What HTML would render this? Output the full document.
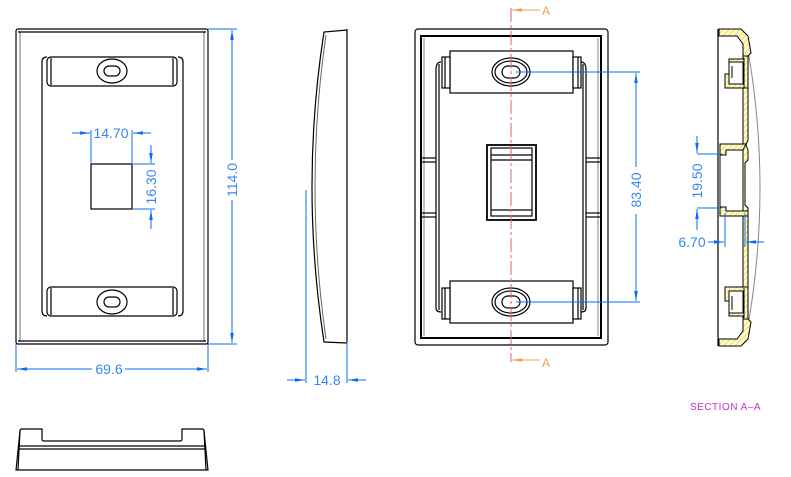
<!DOCTYPE html>
<html><head><meta charset="utf-8"><style>
html,body{margin:0;padding:0;background:#fff;width:791px;height:477px;overflow:hidden}
text{font-family:"Liberation Sans",sans-serif}
</style></head><body>
<svg width="791" height="477" viewBox="0 0 791 477" xmlns="http://www.w3.org/2000/svg">
<defs>
<pattern id="h" width="4" height="4" patternUnits="userSpaceOnUse" patternTransform="rotate(45)">
<rect width="4" height="4" fill="#fffbc8"/><line x1="0" y1="0" x2="0" y2="4" stroke="#e0c840" stroke-width="1.2"/></pattern>
<marker id="ar" markerWidth="10" markerHeight="6" refX="10" refY="3" orient="auto" markerUnits="userSpaceOnUse"><path d="M0,1.2 L10,3 L0,4.8 Z" fill="#0a6ff0"/></marker>
<marker id="ao" markerWidth="10" markerHeight="6" refX="10" refY="3" orient="auto" markerUnits="userSpaceOnUse"><path d="M0,1.2 L10,3 L0,4.8 Z" fill="#f5a050"/></marker>
</defs>
<g fill="none" stroke="#000" stroke-width="1.2">
<!-- left front view -->
<rect x="16" y="29" width="192" height="315" rx="2"/>
<line x1="20" y1="31" x2="20" y2="342" stroke="#888"/>
<line x1="204" y1="31" x2="204" y2="342" stroke="#888"/>
<line x1="18" y1="32" x2="206" y2="32"/>
<line x1="18" y1="341" x2="206" y2="341"/>
<path d="M42,62 Q42,57 47,57 M183,62 Q183,57 178,57 M42,62 V311 Q42,316 47,316 M183,62 V311 Q183,316 178,316"/>
<rect x="47" y="57" width="130" height="29" rx="4"/>
<line x1="51" y1="58" x2="51" y2="85"/><line x1="173" y1="58" x2="173" y2="85"/>
<ellipse cx="112" cy="71" rx="15" ry="12"/>
<rect x="104" y="66" width="16" height="10" rx="5"/>
<rect x="47" y="287" width="130" height="29" rx="4"/>
<line x1="51" y1="288" x2="51" y2="315"/><line x1="173" y1="288" x2="173" y2="315"/>
<ellipse cx="112" cy="302" rx="15" ry="12"/>
<rect x="104" y="297" width="16" height="10" rx="5"/>
<rect x="91" y="164" width="41" height="45"/>
<!-- bottom view -->
<path d="M16,470 L20,431 Q20,429 22,429 L42,429 L42,439 Q42,441 44,441 L180,441 Q182,441 182,439 L182,429 L202,429 Q204,429 204,431 L208,470 Z"/>
<line x1="19" y1="446" x2="205" y2="446"/><line x1="19" y1="449" x2="205" y2="449"/>
<line x1="20" y1="431" x2="18" y2="470"/><line x1="204" y1="431" x2="206" y2="470"/>
<!-- side view -->
<line x1="347" y1="29" x2="347" y2="342"/>
<path d="M347,30 L324,32 Q300,186 324,342 L347,343"/>
<path d="M326,35 Q304,186 326,339" stroke="#666" stroke-width="1"/>
<!-- middle front view -->
<rect x="415" y="29" width="193" height="316" rx="3"/>
<rect x="421" y="36" width="180" height="302" stroke-width="2"/>
<line x1="424" y1="38" x2="424" y2="336" stroke="#999"/><line x1="598" y1="38" x2="598" y2="336" stroke="#999"/>
<path d="M436,70 Q436,62 441,62 M586,70 Q586,62 581,62 M436,70 V308 Q436,312 441,312 M586,70 V308 Q586,312 581,312"/>
<line x1="439" y1="64" x2="439" y2="310"/><line x1="583" y1="64" x2="583" y2="310"/>
<line x1="421" y1="158" x2="436" y2="158"/><line x1="421" y1="162" x2="436" y2="162"/>
<line x1="421" y1="213" x2="436" y2="213"/><line x1="421" y1="217" x2="436" y2="217"/>
<line x1="586" y1="158" x2="601" y2="158"/><line x1="586" y1="162" x2="601" y2="162"/>
<line x1="586" y1="213" x2="601" y2="213"/><line x1="586" y1="217" x2="601" y2="217"/>
<rect x="450" y="51" width="123" height="42" fill="#fff"/>
<rect x="442" y="57" width="8" height="31" fill="#fff"/><line x1="445" y1="57" x2="445" y2="88"/>
<rect x="573" y="57" width="8" height="31" fill="#fff"/><line x1="578" y1="57" x2="578" y2="88"/>
<ellipse cx="511" cy="72" rx="19" ry="14"/><ellipse cx="511" cy="72" rx="16" ry="11"/>
<rect x="502" y="66" width="18" height="12" rx="6"/>
<rect x="450" y="281" width="123" height="42" fill="#fff"/>
<rect x="442" y="288" width="8" height="31" fill="#fff"/><line x1="445" y1="288" x2="445" y2="319"/>
<rect x="573" y="288" width="8" height="31" fill="#fff"/><line x1="578" y1="288" x2="578" y2="319"/>
<ellipse cx="511" cy="302" rx="19" ry="14"/><ellipse cx="511" cy="302" rx="16" ry="11"/>
<rect x="502" y="296" width="18" height="12" rx="6"/>
<rect x="487" y="145" width="49" height="75" stroke-width="1.8"/>
<rect x="491" y="148" width="41" height="68"/>
<line x1="491" y1="155" x2="532" y2="155"/><line x1="491" y1="160" x2="532" y2="160"/><line x1="491" y1="210" x2="532" y2="210"/>
</g>
<!-- section view -->
<g stroke="#000" stroke-width="1" fill="url(#h)">
<path d="M745,34 Q775,188 745,342" stroke="#888" fill="none"/>
<line x1="718" y1="29" x2="718" y2="346" stroke-width="1.2"/>
<!-- top lip -->
<path d="M719,29 L741,29 L748,36 L751,53 L748,56 L743,56 L743,44 L737,36 L719,36 Z"/>
<!-- bottom lip -->
<path d="M719,346 L741,346 L748,339 L751,322 L748,319 L743,319 L743,331 L737,339 L719,339 Z"/>
<!-- wall -->
<path d="M743,85 L748,85 L748,140 L746,145 L748,150 L748,160 L745,163 L745,205 L748,208 L748,290 L743,290 L743,215 L743,150 L743,85 Z"/>
<!-- clips -->
<path d="M743,56 L748,56 L748,88 L725,88 L725,74 L729,74 L729,59 L743,59 Z"/>
<path d="M729,62 L743,62 L743,84 L729,84 Z" fill="#fff"/>
<path d="M743,319 L748,319 L748,287 L725,287 L725,301 L729,301 L729,316 L743,316 Z"/>
<path d="M729,291 L743,291 L743,313 L729,313 Z" fill="#fff"/>
<line x1="744" y1="58" x2="744" y2="88"/><line x1="744" y1="288" x2="744" y2="318"/>
<line x1="732" y1="66" x2="732" y2="78"/><line x1="732" y1="296" x2="732" y2="310"/>
<!-- central box bars -->
<path d="M720,144 L746,144 L743,150 L726,150 L726,155 L720,155 Z"/>
<path d="M720,207 L726,207 L726,211 L748,211 L748,216 L720,216 Z"/>
<line x1="720" y1="155" x2="720" y2="207"/>
</g>
<!-- centerline & section markers -->
<g stroke="#e06060" stroke-width="1" stroke-dasharray="14,3,3,3" fill="none">
<line x1="511" y1="8" x2="511" y2="362"/>
</g>
<g stroke="#f5a050" stroke-width="1" fill="none">
<line x1="540" y1="10" x2="512" y2="10" marker-end="url(#ao)"/>
<line x1="540" y1="360" x2="512" y2="360" marker-end="url(#ao)"/>
</g>
<g fill="#f5a050" font-size="12"><text x="542" y="15">A</text><text x="542" y="367">A</text></g>
<!-- dimensions -->
<g stroke="#0a6ff0" stroke-width="1" fill="none">
<line x1="208" y1="29" x2="237" y2="29"/><line x1="208" y1="344" x2="237" y2="344"/>
<line x1="232" y1="160" x2="232" y2="30" marker-end="url(#ar)"/><line x1="232" y1="200" x2="232" y2="343" marker-end="url(#ar)"/>
<line x1="16" y1="344" x2="16" y2="372"/><line x1="208" y1="344" x2="208" y2="372"/>
<line x1="92" y1="369" x2="17" y2="369" marker-end="url(#ar)"/><line x1="125" y1="369" x2="207" y2="369" marker-end="url(#ar)"/>
<line x1="91" y1="130" x2="91" y2="164"/><line x1="132" y1="130" x2="132" y2="164"/>
<line x1="72" y1="133" x2="90" y2="133" marker-end="url(#ar)"/><line x1="151" y1="133" x2="133" y2="133" marker-end="url(#ar)"/>
<line x1="133" y1="164" x2="155" y2="164"/><line x1="133" y1="209" x2="155" y2="209"/>
<line x1="151" y1="145" x2="151" y2="163" marker-end="url(#ar)"/><line x1="151" y1="229" x2="151" y2="210" marker-end="url(#ar)"/>
<line x1="306" y1="190" x2="306" y2="383"/><line x1="347" y1="342" x2="347" y2="383"/>
<line x1="287" y1="380" x2="305" y2="380" marker-end="url(#ar)"/><line x1="366" y1="380" x2="348" y2="380" marker-end="url(#ar)"/>
<line x1="516" y1="72" x2="640" y2="72"/><line x1="516" y1="302" x2="640" y2="302"/>
<line x1="636" y1="167" x2="636" y2="73" marker-end="url(#ar)"/><line x1="636" y1="214" x2="636" y2="301" marker-end="url(#ar)"/>
<line x1="697" y1="154" x2="722" y2="154"/><line x1="697" y1="208" x2="722" y2="208"/>
<line x1="697" y1="136" x2="697" y2="153" marker-end="url(#ar)"/><line x1="697" y1="230" x2="697" y2="209" marker-end="url(#ar)"/>
<line x1="725" y1="213" x2="725" y2="247"/><line x1="745" y1="213" x2="745" y2="247"/>
<line x1="708" y1="242" x2="724" y2="242" marker-end="url(#ar)"/><line x1="764" y1="242" x2="746" y2="242" marker-end="url(#ar)"/>
</g>
<g fill="#3a86f0" font-size="14">
<text x="232" y="180" text-anchor="middle" dominant-baseline="central" transform="rotate(-90 232 180)">114.0</text>
<text x="109" y="369" text-anchor="middle" dominant-baseline="central">69.6</text>
<text x="111" y="133" text-anchor="middle" dominant-baseline="central">14.70</text>
<text x="151" y="187" text-anchor="middle" dominant-baseline="central" transform="rotate(-90 151 187)">16.30</text>
<text x="327" y="380" text-anchor="middle" dominant-baseline="central">14.8</text>
<text x="636" y="190" text-anchor="middle" dominant-baseline="central" transform="rotate(-90 636 190)">83.40</text>
<text x="697" y="181" text-anchor="middle" dominant-baseline="central" transform="rotate(-90 697 181)">19.50</text>
<text x="692" y="242" text-anchor="middle" dominant-baseline="central">6.70</text>
</g>
<text x="690" y="410" fill="#c030d0" font-size="10" letter-spacing="0.5">SECTION A–A</text>
</svg>
</body></html>
